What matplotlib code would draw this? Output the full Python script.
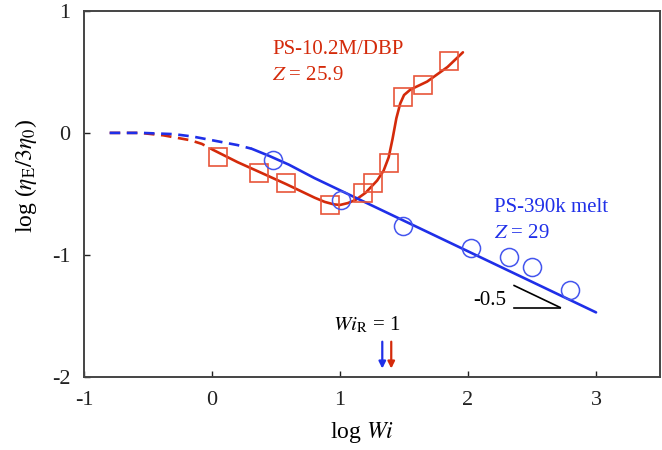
import numpy as np
import matplotlib
matplotlib.use("Agg")
import matplotlib.pyplot as plt

plt.rcParams['font.family'] = ['Liberation Serif', 'DejaVu Serif']
plt.rcParams['mathtext.fontset'] = 'stix'
plt.rcParams['axes.unicode_minus'] = False

# ---- data ----
# PS-390k melt (blue circles)
blue_x = [0.48, 1.01, 1.49, 2.02, 2.32, 2.50, 2.80]
blue_y = [-0.22, -0.55, -0.76, -0.94, -1.02, -1.10, -1.29]
# blue fit curve: dashed and solid parts
blue_dash_x = [-0.80, -0.55, -0.30, -0.15, 0.00, 0.10, 0.20, 0.31]
blue_dash_y = [0.00, 0.00, -0.01, -0.03, -0.06, -0.08, -0.10, -0.13]
blue_fit_x = [0.31, 0.45, 0.60, 0.80, 1.00, 1.50, 2.00, 2.50, 3.00]
blue_fit_y = [-0.13, -0.19, -0.26, -0.37, -0.47, -0.72, -0.97, -1.22, -1.47]

# PS-10.2M/DBP (red squares)
red_x = [0.05, 0.37, 0.58, 0.92, 1.18, 1.26, 1.38, 1.49, 1.65, 1.85]
red_y = [-0.20, -0.33, -0.41, -0.59, -0.49, -0.41, -0.25, 0.29, 0.39, 0.59]
red_dash_x = [-0.80, -0.56, -0.38, -0.17, -0.08, 0.01]
red_dash_y = [0.00, 0.00, -0.02, -0.06, -0.09, -0.14]
red_fit_x = [0.01, 0.20, 0.37, 0.58, 0.80, 0.88, 0.95, 1.00, 1.06, 1.12, 1.20, 1.29,
             1.34, 1.38, 1.41, 1.44, 1.47, 1.50, 1.55, 1.60, 1.68, 1.84, 1.96]
red_fit_y = [-0.14, -0.24, -0.32, -0.42, -0.53, -0.565, -0.585, -0.59, -0.575, -0.55,
             -0.49, -0.39, -0.31, -0.20, -0.05, 0.12, 0.24, 0.31, 0.355, 0.38,
             0.42, 0.54, 0.66]

# Wi_R = 1 positions
wir_blue = 1.33
wir_red = 1.40

fig = plt.figure(figsize=(6.62, 4.5), dpi=100)
ax = fig.add_axes([0.127, 0.162, 0.870, 0.814])

blue = '#1f2fe8'
red = '#d42a0a'

ax.plot(red_dash_x, red_dash_y, color=red, lw=1.9, dashes=(4, 2.5))
ax.plot(blue_dash_x, blue_dash_y, color=blue, lw=1.9, dashes=(4, 2.5))
ax.plot(red_fit_x, red_fit_y, color=red, lw=1.9, solid_capstyle='round',
        solid_joinstyle='round')
ax.plot(blue_fit_x, blue_fit_y, color=blue, lw=1.9, solid_capstyle='round')

ax.plot(red_x, red_y, ls='none', marker='s', ms=12.5, mfc='none',
        mec='#e8553a', mew=1.2)
ax.plot(blue_x, blue_y, ls='none', marker='o', ms=13, mfc='none',
        mec='#4455ee', mew=1.1)

# labels on the curves
ax.text(0.47, 0.68, 'PS-10.2M/DBP', color=red, fontsize=15, va='center')
ax.text(0.47, 0.47, '$Z$ = 25.9', color=red, fontsize=15, va='center')
ax.text(2.20, -0.61, 'PS-390k melt', color=blue, fontsize=15, va='center')
ax.text(2.20, -0.82, '$Z$ = 29', color=blue, fontsize=15, va='center')

# slope triangle
ax.plot([2.36, 2.72], [-1.25, -1.43], color='black', lw=1.2)
ax.plot([2.36, 2.72], [-1.43, -1.43], color='black', lw=1.2)
ax.text(2.30, -1.37, '-0.5', fontsize=15, ha='right', va='center')

# Wi_R arrows
ax.text(1.21, -1.57, r'$Wi_{\rm R}$ = 1', fontsize=15, ha='center', va='center')
ax.annotate('', xy=(wir_blue, -1.93), xytext=(wir_blue, -1.71),
            arrowprops=dict(arrowstyle='-|>', color=blue, lw=1.6,
                            mutation_scale=10, shrinkA=0, shrinkB=0))
ax.annotate('', xy=(wir_red, -1.93), xytext=(wir_red, -1.71),
            arrowprops=dict(arrowstyle='-|>', color=red, lw=1.6,
                            mutation_scale=10, shrinkA=0, shrinkB=0))

ax.set_xlim(-1, 3.5)
ax.set_ylim(-2, 1)
ax.set_xticks([-1, 0, 1, 2, 3])
ax.set_yticks([-2, -1, 0, 1])
ax.tick_params(direction='in', length=4, width=1, labelsize=16, pad=10,
               colors='#222222')
for s in ax.spines.values():
    s.set_linewidth(1.4)
    s.set_color('#444444')

ax.set_xlabel(r'log $Wi$', fontsize=17)
ax.set_ylabel(r'log ($\eta_{\rm E}/3\eta_0$)', fontsize=17)
ax.xaxis.set_label_coords(0.483, -0.118)
ax.yaxis.set_label_coords(-0.078, 0.55)

fig.savefig('out.png', dpi=100)
